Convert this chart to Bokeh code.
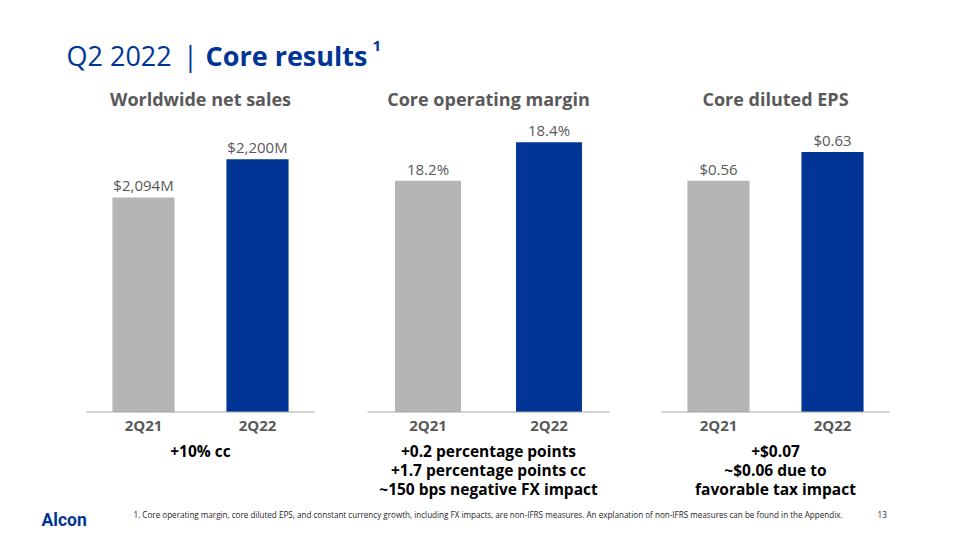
from bokeh.plotting import figure
from bokeh.models import Range1d
from bokeh.core.properties import value
from bokeh.embed import file_html
from bokeh.resources import INLINE

# ---------------- data ----------------
periods = ["2Q21", "2Q22"]
panel_titles = ["Worldwide net sales", "Core operating margin", "Core diluted EPS"]
net_sales = [2094, 2200]          # $M
op_margin = [18.2, 18.4]          # %
diluted_eps = [0.56, 0.63]        # $
axis_min = [1500, 17.0, 0.0]
axis_max = [2300, 18.5, 0.7]
label_formats = ["${:,.0f}M", "{:.1f}%", "${:.2f}"]
notes = [
    ["+10% cc"],
    ["+0.2 percentage points", "+1.7 percentage points cc", "~150 bps negative FX impact"],
    ["+$0.07", "~$0.06 due to", "favorable tax impact"],
]
series = [net_sales, op_margin, diluted_eps]

# ---------------- style / layout ----------------
BLUE = "#003595"
GREY_BAR = "#b5b5b5"
GREY_TXT = "#595959"
FONT = "Open Sans"
bar_colors = [GREY_BAR, BLUE]

W, H = 960, 540
OX, OY = 0, 0
panel_left = [86, 367, 661]
panel_width = [228, 242, 228]
PX_TOP, PX_BASE = 122.5, 411.5

p = figure(width=W, height=H, output_backend="svg", toolbar_location=None,
           x_range=Range1d(OX, OX + W), y_range=Range1d(OY + H, OY),
           min_border=0, outline_line_color=None)
p.axis.visible = False
p.grid.visible = False
p.background_fill_color = "white"
p.border_fill_color = "white"

for k in range(3):
    L, Wd = panel_left[k], panel_width[k]
    unit = Wd / 2.0
    c0 = L + Wd / 4.0
    xs = -(c0 - OX) / unit
    xe = (OX + W - c0) / unit
    a = (PX_BASE - PX_TOP) / (axis_max[k] - axis_min[k])
    ys = axis_min[k] - (OY + H - PX_BASE) / a
    ye = axis_min[k] + (PX_BASE - OY) / a
    xn, yn = f"px{k}", f"py{k}"
    p.extra_x_ranges[xn] = Range1d(xs, xe)
    p.extra_y_ranges[yn] = Range1d(ys, ye)

    vals = series[k]
    idx = list(range(len(periods)))
    p.vbar(x=idx, top=vals, bottom=axis_min[k], width=0.545, fill_color=bar_colors,
           line_color=None, x_range_name=xn, y_range_name=yn)
    p.segment(x0=[-0.5], x1=[1.5], y0=[axis_min[k]], y1=[axis_min[k]],
              line_color="#a6a6a6", line_width=1.2, x_range_name=xn, y_range_name=yn)
    p.text(x=idx, y=vals, text=[label_formats[k].format(v) for v in vals],
           text_align="center", text_baseline="alphabetic", y_offset=-12,
           text_font=value(FONT), text_font_size="15px", text_color=GREY_TXT,
           x_range_name=xn, y_range_name=yn)
    # category labels
    p.text(x=idx, y=[424.5] * len(idx), text=periods, text_align="center",
           text_baseline="alphabetic", text_font=value(FONT), text_font_size="15px",
           text_font_style="bold", text_color=GREY_TXT, x_range_name=xn)
    # panel title
    p.text(x=[0.5], y=[98], text=[panel_titles[k]], text_align="center",
           text_baseline="alphabetic", text_font=value(FONT), text_font_size="18px",
           text_font_style="bold", text_color=GREY_TXT, x_range_name=xn)
    # notes
    p.text(x=[0.5] * len(notes[k]), y=[450 + 19 * j for j in range(len(notes[k]))],
           text=notes[k], text_align="center", text_baseline="alphabetic",
           text_font=value(FONT), text_font_size="15.5px", text_font_style="bold",
           text_color="black", x_range_name=xn)

# slide title
p.text(x=[66], y=[55], text=["Q2 2022"], text_baseline="alphabetic",
       text_font=value(FONT), text_font_size="27px", text_color=BLUE)
p.text(x=[190], y=[55], text=["|"], text_baseline="alphabetic", text_align="center",
       text_font=value(FONT), text_font_size="27px", text_color=BLUE)
p.text(x=[205], y=[55], text=["Core results"], text_baseline="alphabetic",
       text_font=value(FONT), text_font_size="27px", text_font_style="bold", text_color=BLUE)
p.text(x=[372], y=[45], text=["1"], text_baseline="alphabetic",
       text_font=value(FONT), text_font_size="15px", text_font_style="bold", text_color=BLUE)

# footer
p.text(x=[41], y=[519], text=["Alcon"], text_baseline="alphabetic",
       text_font=value("Roboto"), text_font_size="17.5px", text_font_style="bold", text_color=BLUE)
p.text(x=[133], y=[514], text=["1.   Core operating margin, core diluted EPS, and constant currency growth, including FX impacts, are non-IFRS measures.  An explanation of non-IFRS measures can be found in the Appendix."],
       text_baseline="alphabetic", text_font=value(FONT), text_font_size="8.1px", text_color="#262626")
p.text(x=[877], y=[514], text=["13"], text_baseline="alphabetic",
       text_font=value(FONT), text_font_size="8.1px", text_color="#262626")

open("out.html", "w").write(file_html(p, INLINE))
